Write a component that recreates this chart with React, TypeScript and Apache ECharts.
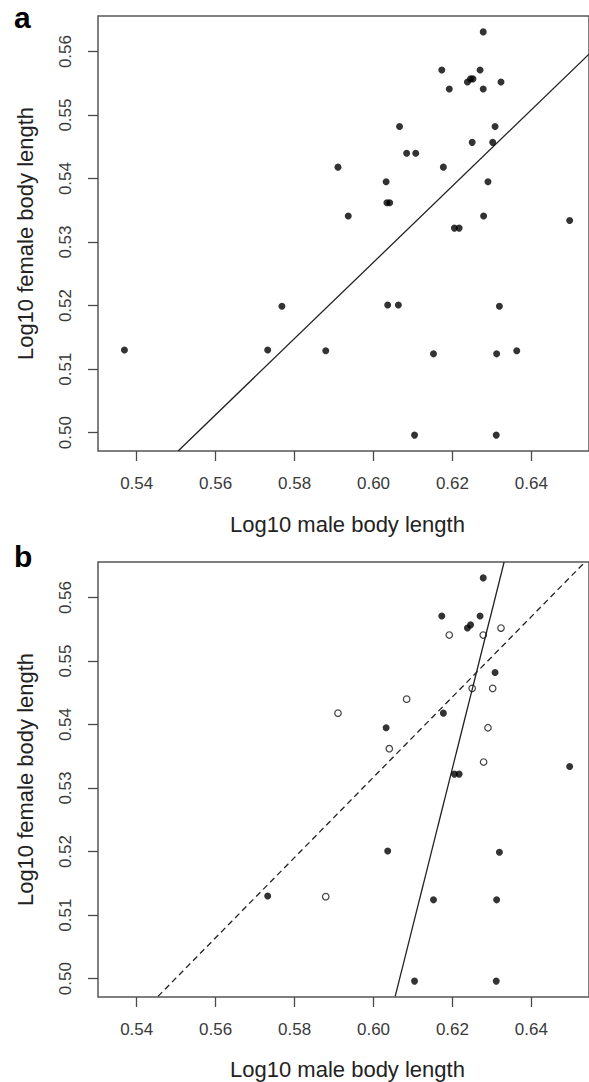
import React, { useEffect, useRef } from "react";
import * as echarts from "echarts";

// ---- data ----
const xTickLabels = ["0.54", "0.56", "0.58", "0.60", "0.62", "0.64"];
const yTickLabels = ["0.50", "0.51", "0.52", "0.53", "0.54", "0.55", "0.56"];
const xTicks = xTickLabels.map(Number);
const yTicks = yTickLabels.map(Number);

const X_MIN = 0.5302;
const X_MAX = 0.6546;
const Y_MIN = 0.4971;
const Y_MAX = 0.5656;

// panel a: all species [log10 male, log10 female]
const pointsA: number[][] = [
  [0.6278, 0.5631],
  [0.6173, 0.5571], [0.627, 0.5571],
  [0.6238, 0.5552], [0.6246, 0.5557], [0.6252, 0.5557],
  [0.6192, 0.5541], [0.6278, 0.5541], [0.6323, 0.5552],
  [0.6066, 0.5482], [0.6308, 0.5482],
  [0.625, 0.5457], [0.6302, 0.5457],
  [0.6084, 0.544], [0.6107, 0.544],
  [0.591, 0.5418], [0.6177, 0.5418],
  [0.6032, 0.5395], [0.629, 0.5395],
  [0.6034, 0.5362], [0.6041, 0.5362],
  [0.5936, 0.5341], [0.6279, 0.5341],
  [0.6497, 0.5334],
  [0.6205, 0.5322], [0.6217, 0.5322],
  [0.5369, 0.513], [0.5768, 0.5199], [0.5732, 0.513], [0.5879, 0.5129],
  [0.6036, 0.5201], [0.6063, 0.5201], [0.6319, 0.5199],
  [0.6152, 0.5124], [0.6312, 0.5124], [0.6363, 0.5129],
  [0.6104, 0.4996], [0.6311, 0.4996],
];

// panel b: filled group
const pointsBFilled: number[][] = [
  [0.6278, 0.5631], [0.6173, 0.5571], [0.627, 0.5571], [0.6238, 0.5552],
  [0.6246, 0.5557], [0.6308, 0.5482], [0.6177, 0.5418], [0.6032, 0.5395],
  [0.6497, 0.5334], [0.6205, 0.5322], [0.6217, 0.5322], [0.6036, 0.5201],
  [0.6319, 0.5199], [0.5732, 0.513], [0.6152, 0.5124], [0.6312, 0.5124],
  [0.6104, 0.4996], [0.6311, 0.4996],
];

// panel b: open group
const pointsBOpen: number[][] = [
  [0.6323, 0.5552], [0.6192, 0.5541], [0.6278, 0.5541], [0.625, 0.5457],
  [0.6302, 0.5457], [0.6084, 0.544], [0.591, 0.5418], [0.629, 0.5395],
  [0.604, 0.5362], [0.6279, 0.5341], [0.5879, 0.5129],
];

// fitted lines (endpoints in data units)
const lineA: number[][] = [[0.5505, 0.4971], [0.6546, 0.5596]];
const lineBSolid: number[][] = [[0.6055, 0.4972], [0.6331, 0.5656]];
const lineBDashed: number[][] = [[0.5454, 0.4972], [0.6536, 0.5656]];

const TEXT_COLOR = "#3a3a3a";
const AXIS_COLOR = "#4a4a4a";
const FONT = "'Liberation Sans', Arial, sans-serif";

function xAxisFor(gridIndex: number) {
  return {
    gridIndex,
    type: "value",
    min: X_MIN,
    max: X_MAX,
    axisLine: { show: false },
    splitLine: { show: false },
    axisTick: {
      show: true,
      length: 10,
      customValues: xTicks,
      lineStyle: { color: AXIS_COLOR, width: 1.3 },
    },
    axisLabel: {
      customValues: xTicks,
      formatter: (v: number) => xTickLabels[xTicks.findIndex((t) => Math.abs(t - v) < 1e-9)] ?? v.toFixed(2),
      fontSize: 17,
      color: TEXT_COLOR,
      fontFamily: FONT,
      margin: 24,
    },
  };
}

function yAxisFor(gridIndex: number) {
  return {
    gridIndex,
    type: "value",
    min: Y_MIN,
    max: Y_MAX,
    axisLine: { show: false },
    splitLine: { show: false },
    axisTick: {
      show: true,
      length: 10,
      customValues: yTicks,
      lineStyle: { color: AXIS_COLOR, width: 1.3 },
    },
    axisLabel: {
      customValues: yTicks,
      rotate: 90,
      formatter: (v: number) => yTickLabels[yTicks.findIndex((t) => Math.abs(t - v) < 1e-9)] ?? v.toFixed(2),
      fontSize: 17,
      color: TEXT_COLOR,
      fontFamily: FONT,
      margin: 24,
    },
  };
}

export default function App() {
  const ref = useRef<HTMLDivElement>(null);

  useEffect(() => {
    if (!ref.current) return;
    const chart = echarts.init(ref.current, undefined, { renderer: "svg" });

    const filledScatter = (data: number[][], idx: number) => ({
      type: "scatter",
      xAxisIndex: idx,
      yAxisIndex: idx,
      data,
      symbol: "circle",
      symbolSize: 7,
      itemStyle: { color: "#000" },
      z: 5,
    });

    const fitLine = (data: number[][], idx: number, dashed: boolean) => ({
      type: "line",
      xAxisIndex: idx,
      yAxisIndex: idx,
      data,
      symbol: "none",
      clip: true,
      lineStyle: { color: "#222", width: 1.3, type: dashed ? [6, 4] : "solid" },
      z: 3,
    });

    chart.setOption({
      animation: false,
      backgroundColor: "#fff",
      grid: [
        { left: 98, top: 16, width: 499, height: 435, show: true, borderColor: "#555", borderWidth: 1.5, backgroundColor: "transparent" },
        { left: 98, top: 562, width: 499, height: 435, show: true, borderColor: "#555", borderWidth: 1.5, backgroundColor: "transparent" },
      ],
      xAxis: [xAxisFor(0), xAxisFor(1)],
      yAxis: [yAxisFor(0), yAxisFor(1)],
      series: [
        fitLine(lineA, 0, false),
        filledScatter(pointsA, 0),
        fitLine(lineBSolid, 1, false),
        fitLine(lineBDashed, 1, true),
        filledScatter(pointsBFilled, 1),
        {
          type: "scatter",
          xAxisIndex: 1,
          yAxisIndex: 1,
          data: pointsBOpen,
          symbol: "circle",
          symbolSize: 6.5,
          itemStyle: { color: "rgba(0,0,0,0)", borderColor: "#111", borderWidth: 1.2 },
          z: 5,
        },
      ],
      graphic: [
        { type: "text", x: 14, y: 17, style: { text: "a", fontSize: 30, lineHeight: 22, fontWeight: "bold", fill: "#000", fontFamily: FONT, align: "left", verticalAlign: "middle" } },
        { type: "text", x: 14, y: 556, style: { text: "b", fontSize: 30, lineHeight: 22, fontWeight: "bold", fill: "#000", fontFamily: FONT, align: "left", verticalAlign: "middle" } },
        { type: "text", x: 347.5, y: 524, style: { text: "Log10 male body length", fontSize: 22, fill: "#222", fontFamily: FONT, align: "center", verticalAlign: "middle" } },
        { type: "text", x: 347.5, y: 1069.5, style: { text: "Log10 male body length", fontSize: 22, fill: "#222", fontFamily: FONT, align: "center", verticalAlign: "middle" } },
        { type: "text", x: 25, y: 233.5, rotation: Math.PI / 2, style: { text: "Log10 female body length", fontSize: 22, fill: "#222", fontFamily: FONT, align: "center", verticalAlign: "middle" } },
        { type: "text", x: 25, y: 779.5, rotation: Math.PI / 2, style: { text: "Log10 female body length", fontSize: 22, fill: "#222", fontFamily: FONT, align: "center", verticalAlign: "middle" } },
      ],
    });

    return () => chart.dispose();
  }, []);

  return (
    <div
      ref={ref}
      style={{ position: "absolute", left: 0, top: 0, width: 589, height: 1082, background: "#fff" }}
    />
  );
}
